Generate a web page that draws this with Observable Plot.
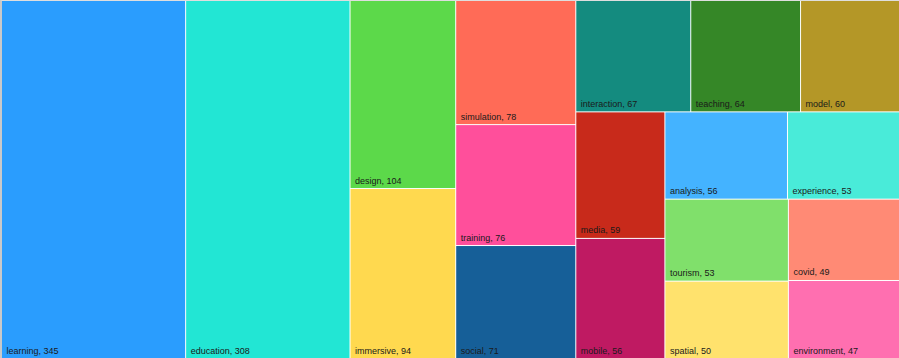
<!DOCTYPE html>
<html>
<head>
<meta charset="utf-8">
<script src="https://cdn.jsdelivr.net/npm/d3@7"></script>
<script src="https://cdn.jsdelivr.net/npm/@observablehq/plot@0.6"></script>
<style>
  html, body { margin: 0; padding: 0; background: #fff; overflow: hidden; width: 899px; height: 358px; }
  #frame { position: absolute; left: 0; top: 0; width: 905px; border-left: 2px solid #c9c9c9; border-top: 1px solid #dedede; }
  svg { display: block; max-width: none !important; }
</style>
</head>
<body>
<div id="frame"></div>
<script>
const keywords = ["learning","education","design","immersive","simulation","training","social","interaction","teaching","model","media","mobile","analysis","experience","tourism","spatial","covid","environment"];
const counts = [345,308,104,94,78,76,71,67,64,60,59,56,56,53,53,50,49,47];
const colors = ["#2a9dfe","#22e6d4","#5cd94a","#ffd94f","#ff6b57","#ff4f9b","#165f98","#148b7f","#358727","#b49727","#c82a1b","#bf1a62","#44b3ff","#49ebd9","#80e06b","#ffe26d","#ff8a75","#ff6fb0"];

// squarified tiling (same procedure as d3's, with a target ratio below 1)
function squarifyTile(ratio) {
  return function(parent, x0, y0, x1, y1) {
    const nodes = parent.children, n = nodes.length;
    let value = parent.value, i0 = 0, i1 = 0;
    while (i0 < n) {
      const dx = x1 - x0, dy = y1 - y0;
      let sumValue;
      do sumValue = nodes[i1++].value; while (!sumValue && i1 < n);
      let minValue = sumValue, maxValue = sumValue;
      const alpha = Math.max(dy / dx, dx / dy) / (value * ratio);
      let beta = sumValue * sumValue * alpha;
      let minRatio = Math.max(maxValue / beta, beta / minValue);
      for (; i1 < n; ++i1) {
        const nodeValue = nodes[i1].value;
        sumValue += nodeValue;
        if (nodeValue < minValue) minValue = nodeValue;
        if (nodeValue > maxValue) maxValue = nodeValue;
        beta = sumValue * sumValue * alpha;
        const newRatio = Math.max(maxValue / beta, beta / minValue);
        if (newRatio > minRatio) { sumValue -= nodeValue; break; }
        minRatio = newRatio;
      }
      const row = {value: sumValue, children: nodes.slice(i0, i1)};
      if (dx < dy) d3.treemapDice(row, x0, y0, x1, dy ? y0 += dy * sumValue / value : y1);
      else d3.treemapSlice(row, x0, y0, dx ? x0 += dx * sumValue / value : x1, y1);
      value -= sumValue; i0 = i1;
    }
  };
}

const W = 901, H = 357;
const root = d3.hierarchy({children: keywords.map((k, i) => ({name: k, value: counts[i], color: colors[i]}))})
  .sum(d => d.value || 0);
d3.treemap().tile(squarifyTile(0.85)).size([W, H]).paddingInner(1).round(false)(root);
const leaves = root.leaves().map(l => ({name: l.data.name, value: l.data.value, color: l.data.color, x0: l.x0, x1: l.x1, y0: l.y0, y1: l.y1}));

const chart = Plot.plot({
  width: W,
  height: H,
  margin: 0,
  style: {background: "#fff", maxWidth: "none"},
  x: {domain: [0, W], range: [0, W], axis: null},
  y: {domain: [0, H], range: [0, H], axis: null},
  marks: [
    Plot.rect(leaves, {x1: "x0", x2: "x1", y1: "y0", y2: "y1", fill: "color"}),
    Plot.text(leaves, {
      x: "x0", y: "y1", text: d => `${d.name}, ${d.value}`,
      textAnchor: "start", lineAnchor: "bottom", dx: 4, dy: -5,
      fill: "#1a1a1a", fontSize: 9, fontFamily: "Liberation Sans, Arial, sans-serif"
    })
  ]
});
document.getElementById("frame").appendChild(chart);
</script>
</body>
</html>
